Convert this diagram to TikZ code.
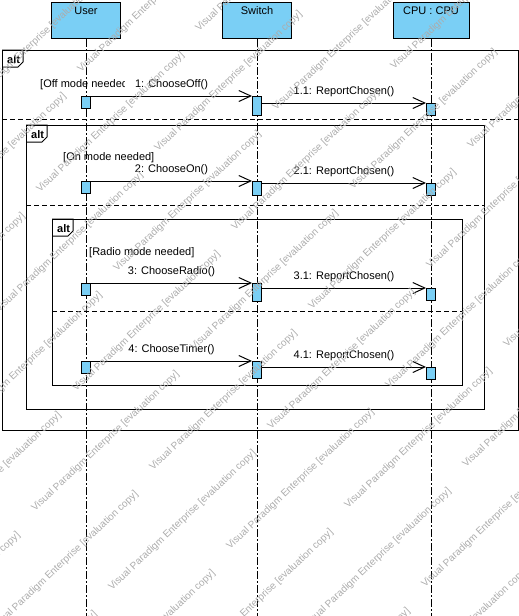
\documentclass[tikz,border=0pt]{standalone}
\usepackage{fontspec}
\setmainfont{Liberation Sans}
\usetikzlibrary{arrows.meta}
\definecolor{vpBlue}{RGB}{122,207,245}
\definecolor{vpMark}{RGB}{172,172,172}
\tikzset{
  seqText/.style = {font=\fontsize{11}{13}\selectfont, inner sep=0pt},
  seqHead/.style = {seqText, draw=black, fill=vpBlue, line width=1pt, anchor=north,
    inner sep=1pt, text height=11pt, text depth=23pt, minimum width=#1},
  seqHead/.default = 69pt,
  act_n/.style = {draw=black, fill=vpBlue, line width=1pt, anchor=north,
    inner sep=0pt, minimum width=9pt, minimum height=#1},
  lifeLine/.style = {line width=1pt, dash pattern=on 8pt off 2pt on 2pt off 2pt},
  frameLine/.style = {line width=1pt},
  divLine/.style = {line width=1pt, dash pattern=on 5pt off 3pt},
  tagText/.style = {font=\fontsize{11}{13}\selectfont\bfseries, inner sep=0pt, anchor=base west},
  guardText/.style = {seqText, anchor=base west},
  msgArrow/.style = {->, line width=1pt},
  msgLabel/.style = {seqText, midway, anchor=base, yshift=8.5pt},
  wMark/.style = {font=\fontsize{10}{12}\selectfont, text=vpMark, inner sep=0pt,
    anchor=base west, rotate=43.5}
    % filigrane de la version d'evaluation
}

\begin{document}
\begin{tikzpicture}[x=1pt,y=-1pt,>={Straight Barb[length=12pt,width=11pt]}]
\useasboundingbox (0,0) rectangle (519,616);
\coordinate (bot) at (0,616);

% lifelines
\node[seqHead] (user) at (86,2) {User};
\node[seqHead] (switch) at (257,2) {Switch};
\node[seqHead=76pt] (cpu) at (431,2) {CPU : CPU};
\foreach \h in {user,switch,cpu}
  \draw[lifeLine] (\h.south) -- (\h.south |- bot);

% combined fragments
\foreach \fl/\ft/\fr/\fb/\fd in {2/50/518/430/119, 26/125/484/409/205, 52/219/462/385/311} {
  \draw[frameLine] (\fl,\ft) rectangle (\fr,\fb);
  \draw[frameLine] (\fl,\ft) -- ++(21,0) -- ++(0,12) -- ++(-5,5) -- (\fl,\ft+17);
  \node[tagText] (tag\fl) at (\fl+5,\ft+13) {alt};
  \draw[divLine] (\fl,\fd) -- (\fr,\fd);
}

% guards
\begin{scope}
  \clip (0,0) rectangle (124,616);
  \node[guardText] (gOff) at (40,87) {[Off mode needed]};
\end{scope}
\node[guardText] (gOn) at (63,160) {[On mode needed]};
\node[guardText] (gRadio) at (89,255) {[Radio mode needed]};

% messages
\foreach \m/\ya/\yb/\hs/\op in {1/96/103/19/Off, 2/181/183/14/On, 3/283/288/18/Radio, 4/361/367/17/Timer} {
  \node[act_n=12pt] (u\m) at (86,\ya) {};
  \node[act_n=\hs pt] (s\m) at (257,\ya) {};
  \node[act_n=12pt] (c\m) at (431,\yb) {};
  \draw[msgArrow] (u\m.north east) -- (u\m.north east -| s\m.west)
    node[msgLabel] (m\m) {\m: Choose\op()};
  \draw[msgArrow] (c\m.north west -| s\m.east) -- (c\m.north west)
    node[msgLabel] (r\m) {\m.1: ReportChosen()};
}

% watermark
\begin{scope}
  \clip (0,0) rectangle (519,616);
  \foreach \i in {-5,...,5}
    \foreach \j in {-6,...,6} {
      \pgfmathsetmacro\wx{35+\i*118+\j*77}
      \pgfmathsetmacro\wy{512-\i*41+\j*79}
      \pgfmathtruncatemacro\wok{and(and(\wx>-150,\wx<515),and(\wy>5,\wy<760))}
      \ifnum\wok=1
        \node[wMark] (wm\i\j) at (\wx,\wy) {Visual Paradigm Enterprise [evaluation copy]};
      \fi
    }
\end{scope}
\end{tikzpicture}
\end{document}
